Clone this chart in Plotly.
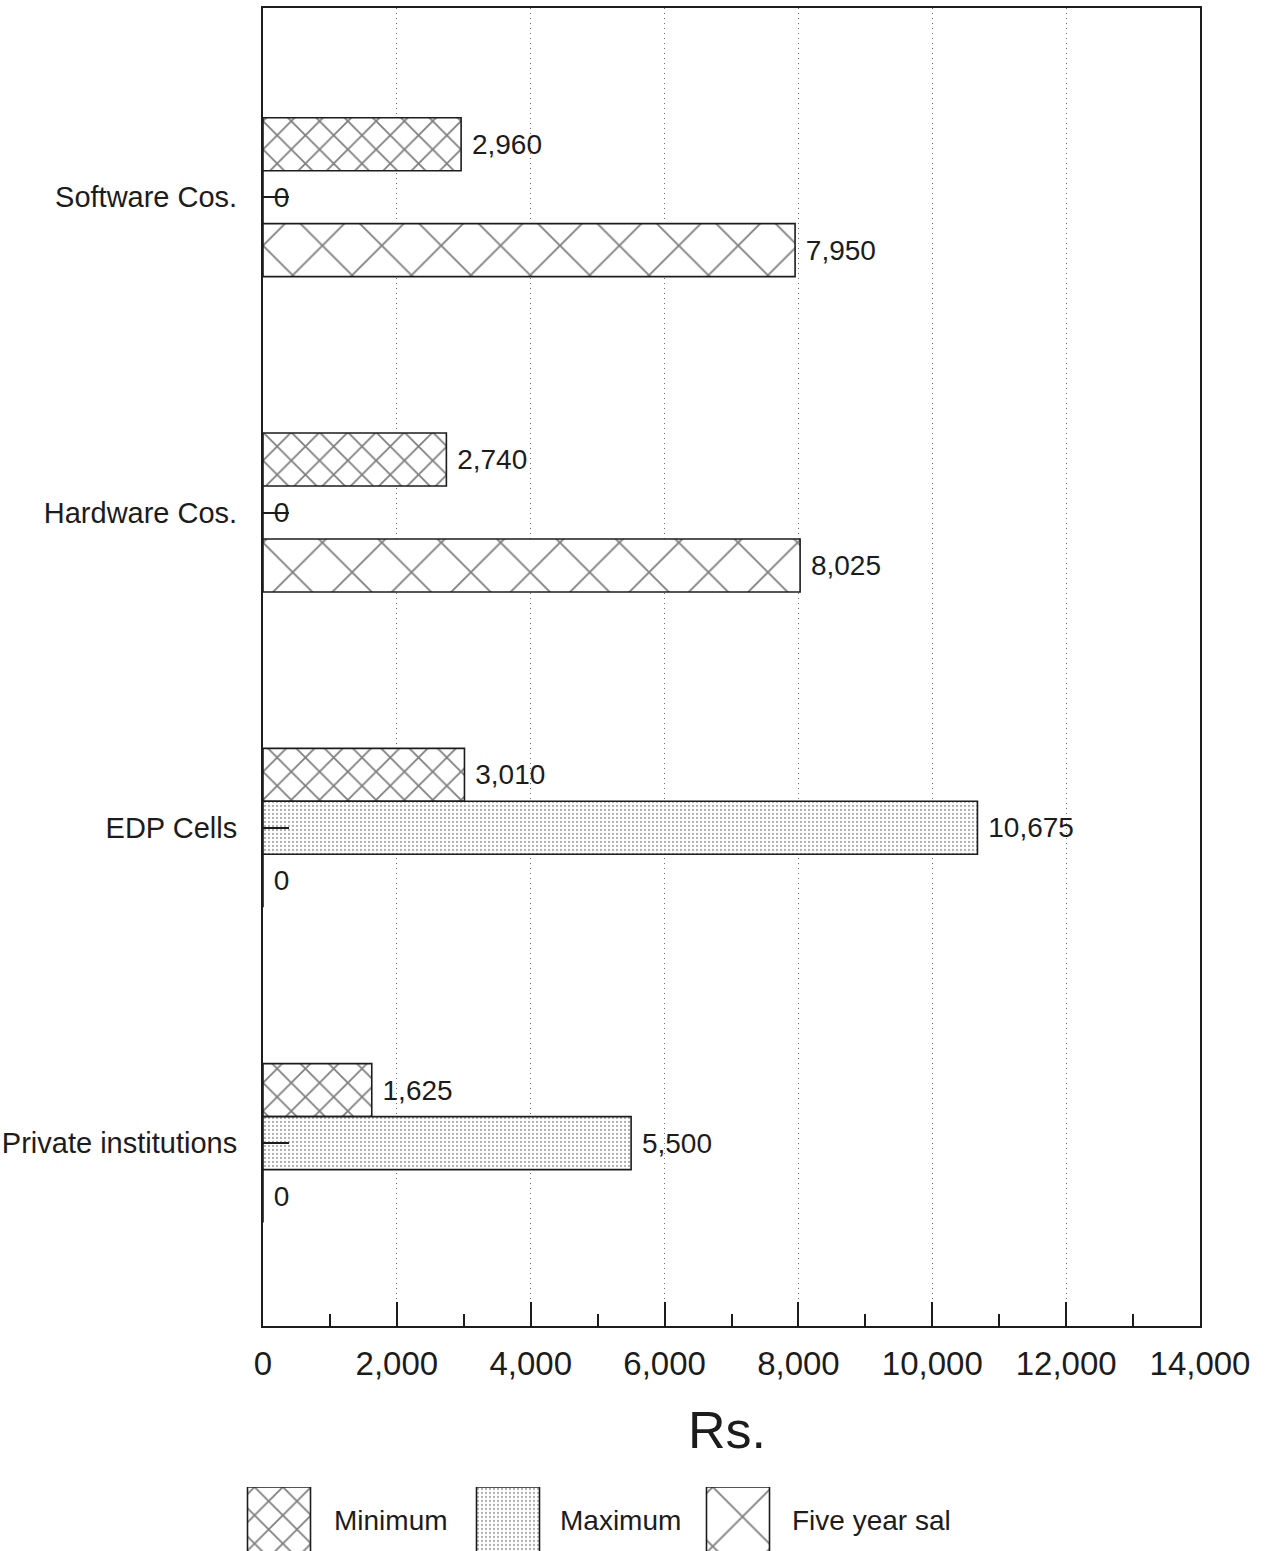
import plotly.graph_objects as go

# ---- data ----
categories = ["Private institutions", "EDP Cells", "Hardware Cos.", "Software Cos."]
minimum = [1625, 3010, 2740, 2960]
maximum = [5500, 10675, 0, 0]
five_year = [0, 0, 8025, 7950]
x_ticks = [0, 2000, 4000, 6000, 8000, 10000, 12000, 14000]

series_names = ["Minimum", "Maximum", "Five year sal"]

INK = "#1c1c1c"
FONT = "Liberation Sans, Arial, Helvetica, sans-serif"

W, H = 1265, 1551
# plot frame in pixels
PX_L, PX_R, PX_T, PX_B = 263, 1200, 8, 1326

BAR_W = 0.168  # bar thickness in category units

patterns = {
    "Minimum": dict(shape="x", size=20, solidity=0.17, fgcolor="#000000", bgcolor="white"),
    "Maximum": dict(shape=".", size=4, solidity=0.25, fgcolor="#5e5e5e", bgcolor="white"),
    "Five year sal": dict(shape="x", size=42, solidity=0.085, fgcolor="#000000", bgcolor="white"),
}
offsets = {"Minimum": BAR_W / 2, "Maximum": -BAR_W / 2, "Five year sal": -1.5 * BAR_W}
values = {"Minimum": minimum, "Maximum": maximum, "Five year sal": five_year}

ypos = list(range(len(categories)))

fig = go.Figure()
for name in series_names:
    vals = values[name]
    fig.add_trace(go.Bar(
        name=name,
        orientation="h",
        y=ypos,
        x=vals,
        width=BAR_W,
        offset=offsets[name],
        marker=dict(color="white", pattern=patterns[name],
                    line=dict(color=INK, width=1.6)),
        text=["\u00a0" + f"{v:,}" for v in vals],
        textposition="outside",
        textfont=dict(family=FONT, size=28, color=INK),
        constraintext="none",
        cliponaxis=False,
        showlegend=False,
        xaxis="x", yaxis="y",
    ))

# legend swatches on a hidden auxiliary axis pair
sw_centers = [279, 508, 738]
sw_width = 63
label_x = [332, 558, 790]
for name, cx, lx in zip(series_names, sw_centers, label_x):
    fig.add_trace(go.Bar(
        x=[cx], y=[1], base=[0], width=[sw_width],
        marker=dict(color="white", pattern=patterns[name],
                    line=dict(color=INK, width=1.6)),
        showlegend=False, hoverinfo="skip",
        xaxis="x2", yaxis="y2",
    ))
    fig.add_annotation(
        text=name, x=lx / W, y=1 - 1520 / H, xref="paper", yref="paper",
        xanchor="left", yanchor="middle", showarrow=False,
        font=dict(family=FONT, size=28, color=INK),
    )

fig.add_annotation(
    text="Rs.", x=727 / W, y=1 - 1430 / H, xref="paper", yref="paper",
    xanchor="center", yanchor="middle", showarrow=False,
    font=dict(family=FONT, size=52, color=INK),
)

fig.update_layout(
    width=W, height=H,
    margin=dict(l=0, r=0, t=0, b=0),
    paper_bgcolor="white", plot_bgcolor="white",
    barmode="overlay",
    font=dict(family=FONT, color=INK),
    xaxis=dict(
        domain=[PX_L / W, PX_R / W],
        range=[0, 14000],
        tickvals=x_ticks,
        ticktext=[f"{v:,}" for v in x_ticks],
        tickfont=dict(family=FONT, size=33, color=INK),
        ticks="inside", ticklen=24, tickwidth=1.5, tickcolor=INK,
        minor=dict(dtick=1000, ticks="inside", ticklen=12, tickwidth=1.5,
                   tickcolor=INK, showgrid=False),
        showgrid=True, gridcolor="#6e6e6e", griddash="1px,4px", gridwidth=1.2,
        showline=True, linecolor=INK, linewidth=2, mirror=True,
        zeroline=False, ticklabelstandoff=7, automargin=False,
        anchor="y",
    ),
    yaxis=dict(
        domain=[1 - PX_B / H, 1 - PX_T / H],
        range=[-0.58, 3.60],
        tickvals=ypos, ticktext=categories,
        tickfont=dict(family=FONT, size=29, color=INK),
        ticks="inside", ticklen=26, tickwidth=1.5, tickcolor=INK,
        showgrid=False, zeroline=False,
        showline=True, linecolor=INK, linewidth=2, mirror=True,
        ticklabelstandoff=18, automargin=False,
        anchor="x",
    ),
    xaxis2=dict(domain=[0, 1], range=[0, W], visible=False, anchor="y2",
                fixedrange=True),
    yaxis2=dict(domain=[0, (H - 1487) / H], range=[0.03, 1.0], visible=False,
                anchor="x2", fixedrange=True),
)

fig.write_html("out.html")
